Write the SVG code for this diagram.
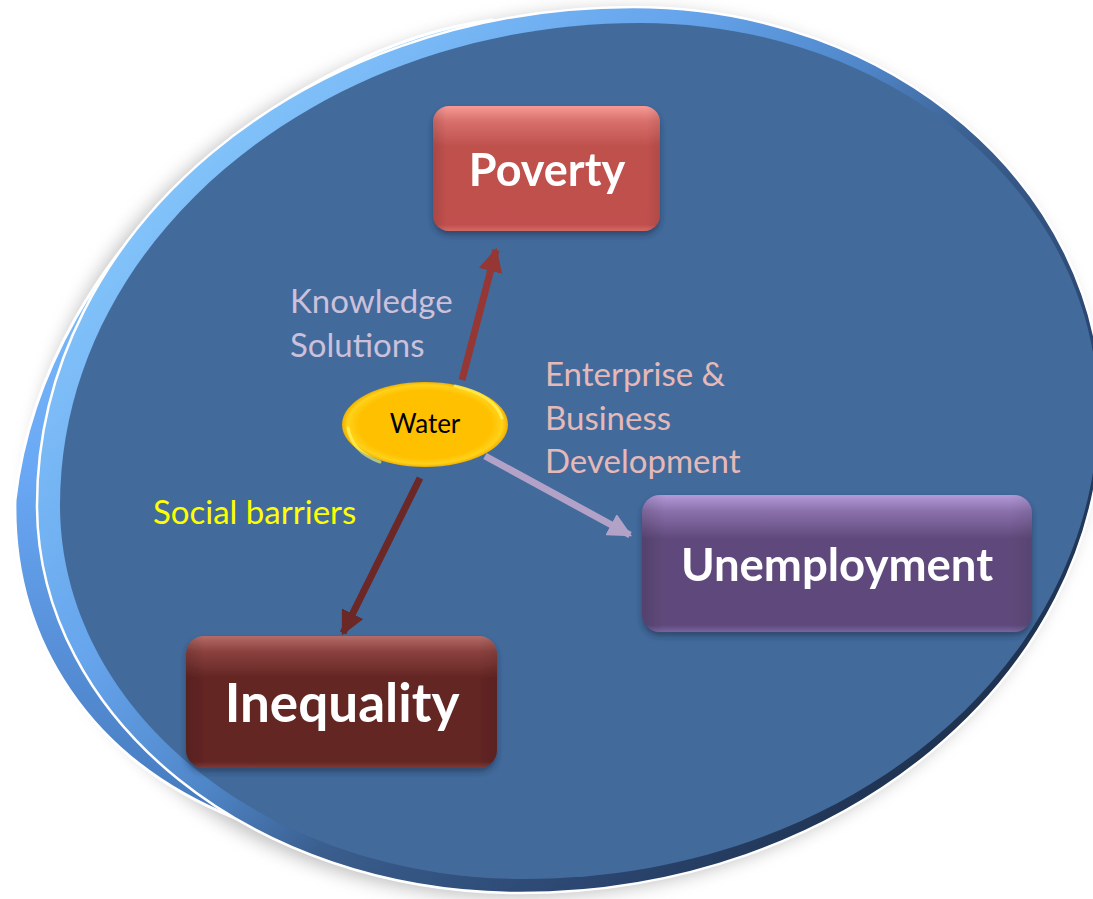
<svg xmlns="http://www.w3.org/2000/svg" width="1093" height="899" viewBox="0 0 1093 899">
<defs>
<linearGradient id="bevel" gradientUnits="userSpaceOnUse" x1="150" y1="80" x2="1000" y2="860">
<stop offset="0" stop-color="#8ccdff"/>
<stop offset="0.3" stop-color="#66a4ec"/>
<stop offset="0.45" stop-color="#4f86c8"/>
<stop offset="0.56" stop-color="#3a5e8e"/>
<stop offset="0.75" stop-color="#2b4670"/>
<stop offset="1" stop-color="#16243a"/>
</linearGradient>
<linearGradient id="backg" gradientUnits="userSpaceOnUse" x1="0" y1="30" x2="0" y2="830">
<stop offset="0" stop-color="#8fd0ff"/>
<stop offset="0.55" stop-color="#6aa8f5"/>
<stop offset="1" stop-color="#4478bb"/>
</linearGradient>
<filter id="soft" x="-10%" y="-10%" width="120%" height="120%"><feGaussianBlur stdDeviation="9"/></filter>
<filter id="bshadow" x="-10%" y="-10%" width="120%" height="130%"><feDropShadow dx="0" dy="4" stdDeviation="3" flood-color="#1c2c44" flood-opacity="0.55"/></filter>
<linearGradient id="gPov" x1="0" y1="0" x2="0" y2="1">
<stop offset="0" stop-color="#f79a96"/><stop offset="0.12" stop-color="#d9706c"/><stop offset="0.32" stop-color="#bf514e"/><stop offset="0.95" stop-color="#c0504d"/><stop offset="1" stop-color="#d46a66"/>
</linearGradient>
<linearGradient id="gUne" x1="0" y1="0" x2="0" y2="1">
<stop offset="0" stop-color="#b39ad8"/><stop offset="0.12" stop-color="#8a70ab"/><stop offset="0.32" stop-color="#5f4a7b"/><stop offset="0.95" stop-color="#5f4a7b"/><stop offset="1" stop-color="#7a64a0"/>
</linearGradient>
<linearGradient id="gIne" x1="0" y1="0" x2="0" y2="1">
<stop offset="0" stop-color="#b56c68"/><stop offset="0.12" stop-color="#8a413e"/><stop offset="0.32" stop-color="#632523"/><stop offset="0.95" stop-color="#632523"/><stop offset="1" stop-color="#7e3a37"/>
</linearGradient>
<linearGradient id="sideL" x1="0" y1="0" x2="1" y2="0">
<stop offset="0" stop-color="#000" stop-opacity="0.12"/><stop offset="0.06" stop-color="#000" stop-opacity="0"/><stop offset="0.94" stop-color="#000" stop-opacity="0"/><stop offset="1" stop-color="#000" stop-opacity="0.08"/>
</linearGradient>
<radialGradient id="gWater" cx="0.5" cy="0.5" r="0.5">
<stop offset="0" stop-color="#ffc000"/><stop offset="0.8" stop-color="#ffc000"/><stop offset="0.93" stop-color="#ffd21a"/><stop offset="1" stop-color="#f0b000"/>
</radialGradient>
<marker id="mPov" viewBox="0 0 10 10" refX="9" refY="5" markerWidth="24" markerHeight="24" markerUnits="userSpaceOnUse" orient="auto"><path d="M0,0 L10,5 L0,10 Z" fill="#953735"/></marker>
<marker id="mIne" viewBox="0 0 10 10" refX="9" refY="5" markerWidth="24" markerHeight="24" markerUnits="userSpaceOnUse" orient="auto"><path d="M0,0 L10,5 L0,10 Z" fill="#6b2826"/></marker>
<marker id="mUne" viewBox="0 0 10 10" refX="9" refY="5" markerWidth="24" markerHeight="24" markerUnits="userSpaceOnUse" orient="auto"><path d="M0,0 L10,5 L0,10 Z" fill="#b3a2c7"/></marker>
<style>
.box text{font-family:Lato,"Liberation Sans",sans-serif;font-weight:bold;fill:#ffffff;text-anchor:middle}
.lbl{font-family:Lato,"Liberation Sans",sans-serif;font-size:33px}
.conn line{stroke-width:7}
</style>
</defs>

<g id="background">
<path d="M633,7 C892,7 1102,187 1102,410 C1102,677 841,893 520,893 C253,893 37,719 37,505 C37,230 304,7 633,7 Z" fill="#8a8a8a" opacity="0.55" filter="url(#soft)" transform="translate(-8,4)"/>
<path d="M492,20 C300,45 45,240 15,500 C12,640 90,760 235,818 L600,450 Z" fill="url(#backg)" stroke="#ffffff" stroke-width="3"/>
<path d="M633,7 C892,7 1102,187 1102,410 C1102,677 841,893 520,893 C253,893 37,719 37,505 C37,230 304,7 633,7 Z" fill="url(#bevel)" stroke="#ffffff" stroke-width="2.5"/>
<path d="M640,23 C893,23 1098,196 1098,410 C1098,669 841,879 525,879 C268,879 60,712 60,505 C60,239 320,23 640,23 Z" fill="#426b9c"/>
</g>

<g id="connectors" class="conn">
<line x1="462" y1="380" x2="496" y2="250" stroke="#953735" marker-end="url(#mPov)"/>
<line x1="420" y1="478" x2="343" y2="633" stroke="#6b2826" marker-end="url(#mIne)"/>
<line x1="485" y1="456" x2="630" y2="535" stroke="#b3a2c7" marker-end="url(#mUne)"/>
</g>

<g id="node-poverty" class="box" filter="url(#bshadow)">
<rect x="433" y="106" width="227" height="125" rx="16" fill="url(#gPov)"/>
<rect x="433" y="106" width="227" height="125" rx="16" fill="url(#sideL)"/>
<text x="547" y="186" font-size="45">Poverty</text>
</g>

<g id="node-unemployment" class="box" filter="url(#bshadow)">
<rect x="642" y="495" width="390" height="137" rx="18" fill="url(#gUne)"/>
<rect x="642" y="495" width="390" height="137" rx="18" fill="url(#sideL)"/>
<text x="837" y="581" font-size="45.5">Unemployment</text>
</g>

<g id="node-inequality" class="box" filter="url(#bshadow)">
<rect x="186" y="636" width="311" height="132" rx="18" fill="url(#gIne)"/>
<rect x="186" y="636" width="311" height="132" rx="18" fill="url(#sideL)"/>
<text x="342" y="722" font-size="53">Inequality</text>
</g>

<g id="node-water">
<ellipse cx="425" cy="424.5" rx="83" ry="42.5" fill="url(#gWater)"/>
<path d="M455,386 Q495,395 502,418" fill="none" stroke="#ffff70" stroke-width="3" opacity="0.6" stroke-linecap="round"/>
<path d="M348,428 Q352,452 380,462" fill="none" stroke="#ffff70" stroke-width="3" opacity="0.6" stroke-linecap="round"/>
<text x="425" y="433" font-family="Lato, 'Liberation Sans', sans-serif" font-size="26" fill="#000000" text-anchor="middle">Water</text>
</g>

<g id="labels">
<text class="lbl" fill="#ccc0da"><tspan x="290" y="313">Knowledge</tspan><tspan x="290" y="357">Solutions</tspan></text>
<text class="lbl" fill="#e6b9b8"><tspan x="545" y="386">Enterprise &amp;</tspan><tspan x="545" y="430">Business</tspan><tspan x="545" y="473">Development</tspan></text>
<text class="lbl" fill="#ffff00" x="153" y="524">Social barriers</text>
</g>
</svg>
